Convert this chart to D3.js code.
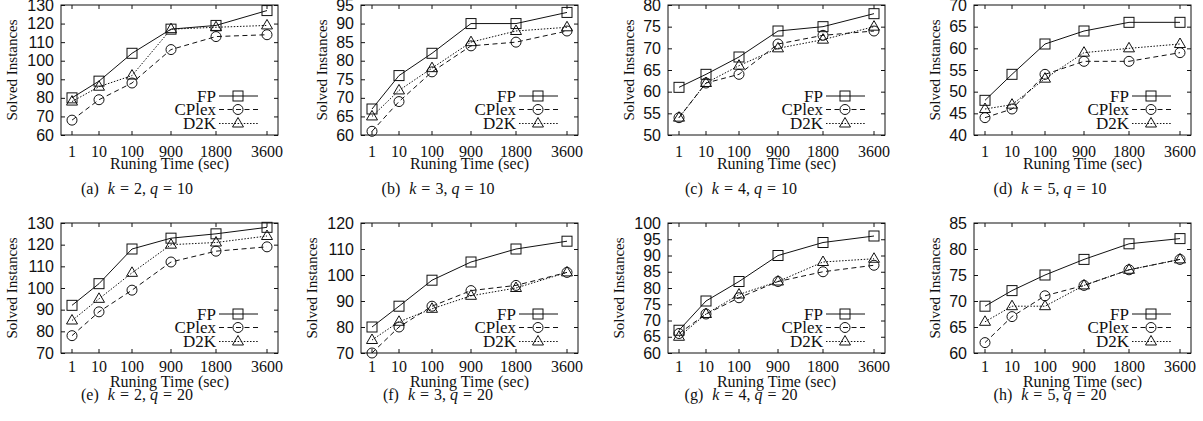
<!DOCTYPE html>
<html lang="en">
<head>
<meta charset="UTF-8">
<title>Solved Instances vs Running Time</title>
<script src="https://d3js.org/d3.v7.min.js"></script>
<style>
  body { margin: 0; background: #fff; }
  svg { font-family: "Liberation Serif", "Times New Roman", serif; fill: #000; }
</style>
</head>
<body>
<svg id="chart" width="1203" height="421"></svg>
<script>
// data
const times = ["1", "10", "100", "900", "1800", "3600"];
const seriesNames = ["FP", "CPlex", "D2K"];
const panelLetters = ["a", "b", "c", "d", "e", "f", "g", "h"];
const kValues = [2, 3, 4, 5, 2, 3, 4, 5];
const qValues = [10, 10, 10, 10, 20, 20, 20, 20];
const yMin = [60, 60, 50, 40, 70, 70, 60, 60];
const yMax = [130, 95, 80, 70, 130, 120, 100, 85];
const yStep = [10, 5, 5, 5, 10, 10, 5, 5];

const fpValues = [
  [80, 89, 104, 117, 119, 127],
  [67, 76, 82, 90, 90, 93],
  [61, 64, 68, 74, 75, 78],
  [48, 54, 61, 64, 66, 66],
  [92, 102, 118, 123, 125, 128],
  [80, 88, 98, 105, 110, 113],
  [67, 76, 82, 90, 94, 96],
  [69, 72, 75, 78, 81, 82]
];
const cplexValues = [
  [68, 79, 88, 106, 113, 114],
  [61, 69, 77, 84, 85, 88],
  [54, 62, 64, 71, 73, 74],
  [44, 46, 54, 57, 57, 59],
  [78, 89, 99, 112, 117, 119],
  [70, 80, 88, 94, 96, 101],
  [66, 72, 77, 82, 85, 87],
  [62, 67, 71, 73, 76, 78]
];
const d2kValues = [
  [78, 86, 92, 117, 118, 119],
  [65, 72, 78, 85, 88, 89],
  [54, 62, 66, 70, 72, 75],
  [46, 47, 53, 59, 60, 61],
  [85, 95, 107, 120, 121, 124],
  [75, 82, 87, 92, 95, 101],
  [65, 72, 78, 82, 88, 89],
  [66, 69, 69, 73, 76, 78]
];

// layout
const frameLeft = [61, 361, 668, 974];
const frameTop = [5, 223];
const frameW = 217, frameH = 130;
const captionX = [137, 438, 741, 1050];
const captionY = [193.5, 399.5];
const tickBase = [22, 19];
const titleBase = [34, 33.5];
const tickFont = 16, titleFont = 16, yTitleFont = 15, legendFont = 17, captionFont = 16;
const ink = "#111";

const styles = [
  { dash: null, marker: "square" },
  { dash: "5,3.5", marker: "circle" },
  { dash: "1.5,1.6", marker: "triangle" }
];

const svg = d3.select("#chart");

function drawMarker(g, type, cx, cy) {
  if (type === "square") {
    g.append("rect").attr("x", cx - 5).attr("y", cy - 5)
      .attr("width", 10).attr("height", 10);
  } else if (type === "circle") {
    g.append("circle").attr("cx", cx).attr("cy", cy).attr("r", 5);
  } else {
    g.append("path").attr("d", `M${cx},${cy - 6}L${cx + 5.5},${cy + 3.5}L${cx - 5.5},${cy + 3.5}Z`);
  }
}

for (let p = 0; p < 8; p++) {
  const row = Math.floor(p / 4), col = p % 4;
  const left = frameLeft[col], top = frameTop[row];
  const right = left + frameW, bottom = top + frameH;

  // x positions are not evenly spaced in the original; a square-law scale fits them
  const x = d3.scalePow().exponent(2).domain([4, 9]).range([left + 11, right - 11]);
  const xi = i => x(i + 4);
  const y = d3.scaleLinear().domain([yMin[p], yMax[p]]).range([bottom, top]);

  const g = svg.append("g");

  // y axis ticks + labels (ticks mirrored inside on both sides)
  const yTicks = d3.range(yMin[p], yMax[p] + 0.001, yStep[p]);
  const yAxisL = d3.axisLeft(y).tickValues(yTicks).tickSizeInner(-4).tickSizeOuter(0).tickPadding(7);
  const ga = g.append("g").attr("transform", `translate(${left},0)`).call(yAxisL);
  ga.select(".domain").remove();
  ga.selectAll("line").attr("stroke", ink);
  ga.selectAll("text").attr("font-size", tickFont).attr("font-family", null).attr("fill", ink);
  const gr = g.append("g").attr("transform", `translate(${right},0)`)
    .call(d3.axisRight(y).tickValues(yTicks).tickSizeInner(-4).tickSizeOuter(0).tickFormat(""));
  gr.select(".domain").remove();
  gr.selectAll("line").attr("stroke", ink);

  // x ticks bottom and top
  times.forEach((t, i) => {
    g.append("line").attr("x1", xi(i)).attr("x2", xi(i)).attr("y1", bottom).attr("y2", bottom - 4).attr("stroke", ink);
    g.append("line").attr("x1", xi(i)).attr("x2", xi(i)).attr("y1", top).attr("y2", top + 4).attr("stroke", ink);
    g.append("text").attr("x", xi(i)).attr("y", bottom + tickBase[row])
      .attr("text-anchor", "middle").attr("font-size", tickFont).attr("fill", ink).text(t);
  });

  // frame
  g.append("rect").attr("x", left).attr("y", top).attr("width", frameW).attr("height", frameH)
    .attr("fill", "none").attr("stroke", ink).attr("stroke-width", 1);

  // axis titles
  const yLabelOff = String(yMax[p]).length === 3 ? 49.5 : 39;
  g.append("text")
    .attr("transform", `translate(${left - yLabelOff},${(top + bottom) / 2}) rotate(-90)`)
    .attr("text-anchor", "middle").attr("dy", "0.35em")
    .attr("font-size", yTitleFont).attr("fill", ink).text("Solved Instances");
  g.append("text").attr("x", (left + right) / 2).attr("y", bottom + titleBase[row])
    .attr("text-anchor", "middle").attr("font-size", titleFont).attr("fill", ink)
    .text("Runing Time (sec)");

  // series
  const allSeries = [fpValues[p], cplexValues[p], d2kValues[p]];
  const line = d3.line().x((d, i) => xi(i)).y(d => y(d));
  allSeries.forEach((vals, s) => {
    const sg = g.append("g").attr("fill", "none").attr("stroke", ink).attr("stroke-width", 1);
    sg.append("path").attr("d", line(vals)).attr("stroke-dasharray", styles[s].dash);
    const mg = g.append("g").attr("fill", "none").attr("stroke", ink).attr("stroke-width", 1);
    vals.forEach((v, i) => drawMarker(mg, styles[s].marker, xi(i), y(v)));
  });

  // legend
  const legOff = [39, 25.5, 11.5];
  seriesNames.forEach((name, s) => {
    const ly = bottom - legOff[s];
    g.append("text").attr("x", right - 62).attr("y", ly).attr("dy", "0.35em")
      .attr("text-anchor", "end").attr("font-size", legendFont).attr("fill", ink).text(name);
    g.append("line").attr("x1", right - 59).attr("x2", right - 20).attr("y1", ly).attr("y2", ly)
      .attr("stroke", ink).attr("stroke-dasharray", styles[s].dash);
    const mg = g.append("g").attr("fill", "none").attr("stroke", ink);
    drawMarker(mg, styles[s].marker, right - 40, ly);
  });

  // caption
  const cap = g.append("text").attr("x", captionX[col]).attr("y", captionY[row])
    .attr("text-anchor", "middle").attr("font-size", captionFont).attr("fill", ink);
  cap.append("tspan").text(`(${panelLetters[p]})`);
  cap.append("tspan").attr("dx", 9).attr("font-style", "italic").text("k");
  cap.append("tspan").attr("dx", 5).text("=");
  cap.append("tspan").attr("dx", 5).text(`${kValues[p]},`);
  cap.append("tspan").attr("dx", 4).attr("font-style", "italic").text("q");
  cap.append("tspan").attr("dx", 5).text("=");
  cap.append("tspan").attr("dx", 5).text(`${qValues[p]}`);
}
</script>
</body>
</html>
